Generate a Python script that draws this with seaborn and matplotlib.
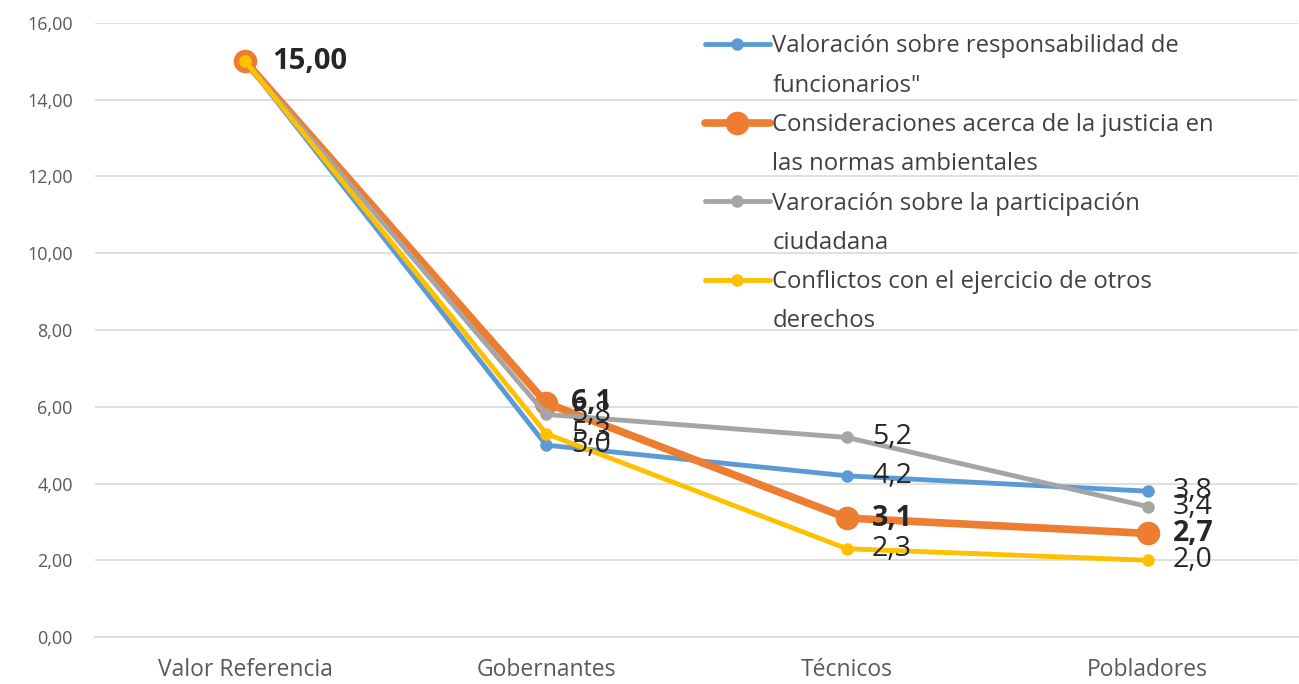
import matplotlib
matplotlib.use("Agg")
import matplotlib.pyplot as plt
import seaborn as sns
import pandas as pd
from matplotlib.lines import Line2D

categories = ["Valor Referencia", "Gobernantes", "Técnicos", "Pobladores"]
series_line1 = [
    "Valoración sobre responsabilidad de",
    "Consideraciones acerca de la justicia en",
    "Varoración sobre la participación",
    "Conflictos con el ejercicio de otros",
]
series_line2 = [
    "funcionarios\"",
    "las normas ambientales",
    "ciudadana",
    "derechos",
]
valoracion = [15.0, 5.0, 4.2, 3.8]
consideraciones = [15.0, 6.1, 3.1, 2.7]
participacion = [15.0, 5.8, 5.2, 3.4]
conflictos = [15.0, 5.3, 2.3, 2.0]
y_ticks = [0, 2, 4, 6, 8, 10, 12, 14, 16]

series_names = [a + " " + b for a, b in zip(series_line1, series_line2)]
all_values = [valoracion, consideraciones, participacion, conflictos]
colors = ["#5B9BD5", "#ED7D31", "#A5A5A5", "#FFC000"]
line_w = [3.5, 5.5, 3.5, 3.5]
marker_s = [9, 17, 9, 9]

sns.set_theme(style="white")
plt.rcParams["font.family"] = ["Open Sans", "DejaVu Sans"]

rows = []
for name, vals in zip(series_names, all_values):
    for i, (c, v) in enumerate(zip(categories, vals)):
        rows.append({"serie": name, "pos": i, "cat": c, "valor": v})
df = pd.DataFrame(rows)

fig = plt.figure(figsize=(12.99, 6.84), dpi=100)
ax = fig.add_axes([0.0731, 0.0687, 0.9262, 0.8977])

for name, col, lw, ms in zip(series_names, colors, line_w, marker_s):
    sub = df[df["serie"] == name]
    sns.lineplot(data=sub, x="pos", y="valor", ax=ax, color=col, linewidth=lw,
                 marker="o", markersize=ms, markeredgewidth=0, legend=False)

ax.set_xlim(-0.5, 3.5)
ax.set_ylim(0, 16)
ax.set_yticks(y_ticks)
ax.set_yticklabels([f"{t:.2f}".replace(".", ",") for t in y_ticks], fontsize=13, color="#595959")
ax.set_xticks(range(len(categories)))
ax.set_xticklabels(categories, fontsize=16.5, color="#595959")
ax.set_xlabel("")
ax.set_ylabel("")
ax.grid(axis="y", color="#D9D9D9", linewidth=1.2)
ax.set_axisbelow(True)
for s in ["top", "right", "left"]:
    ax.spines[s].set_visible(False)
ax.spines["bottom"].set_color("#D9D9D9")
ax.tick_params(axis="x", length=0, pad=15)
ax.tick_params(axis="y", length=0, pad=16)

# data labels
ax.annotate("15,00", (0, 15.0), xytext=(19, 0), textcoords="offset points",
            ha="left", va="center", fontsize=21, fontweight="bold", color="#262626")
for vals, w in zip(all_values, ["normal", "bold", "normal", "normal"]):
    for i in range(1, len(vals)):
        ax.annotate(f"{vals[i]:.1f}".replace(".", ","), (i, vals[i]), xytext=(18, 0),
                    textcoords="offset points", ha="left", va="center",
                    fontsize=20.5, fontweight=w, color="#262626")

handles, labels = [], []
for c, lw, ms, l1, l2 in zip(colors, line_w, marker_s, series_line1, series_line2):
    handles.append(Line2D([0], [0], color=c, linewidth=lw, marker="o", markersize=ms,
                          markeredgewidth=0))
    labels.append(l1)
    handles.append(Line2D([0], [0], color="none", linewidth=0))
    labels.append(l2)
leg = ax.legend(handles, labels, loc="upper left", bbox_to_anchor=(0.5427, 0.9497),
                bbox_transform=fig.transFigure, frameon=False, fontsize=17.2,
                handlelength=2.72, handletextpad=0.1, borderpad=0, borderaxespad=0,
                labelspacing=0.64, labelcolor="#404040")

fig.savefig("out.png", dpi=100)
